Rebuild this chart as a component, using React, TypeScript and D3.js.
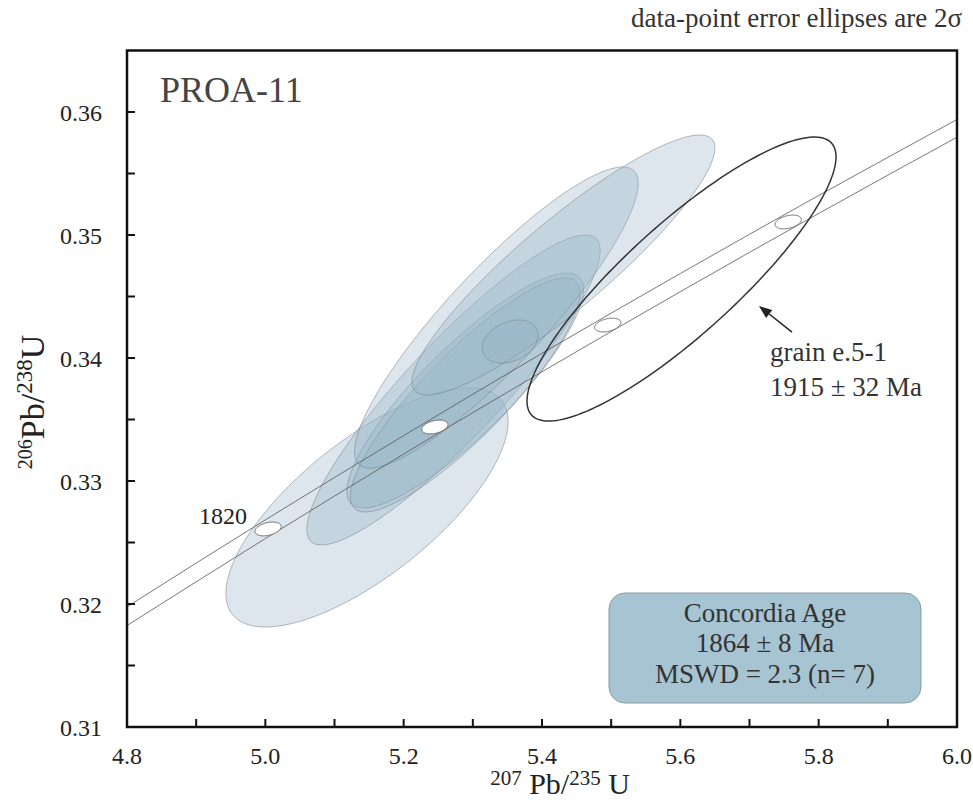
import React from 'react';
import * as d3 from 'd3';

// ---- axes ----
const xDomain = [4.8, 6.0];
const yDomain = [0.31, 0.365];
const xTicks = [4.8, 5.0, 5.2, 5.4, 5.6, 5.8, 6.0];
const xMinor = [4.9, 5.1, 5.3, 5.5, 5.7, 5.9];
const yTicks = [0.31, 0.32, 0.33, 0.34, 0.35, 0.36];
const yMinor = [0.315, 0.325, 0.335, 0.345, 0.355];

// ---- data-point error ellipses (2σ): centre, half-extent, correlation ----
const ellX = [5.147, 5.272, 5.289, 5.289, 5.334, 5.431, 5.354];
const ellSX = [0.204, 0.212, 0.171, 0.166, 0.205, 0.219, 0.0405];
const ellY = [0.32785, 0.3374, 0.33736, 0.33699, 0.34329, 0.34756, 0.34134];
const ellSY = [0.00972, 0.0126, 0.00955, 0.00951, 0.01224, 0.01057, 0.00175];
const ellRho = [0.72, 0.9, 0.86, 0.87, 0.89, 0.9, 0.3];

// excluded grain e.5-1
const outlierX = [5.6017];
const outlierSX = [0.2234];
const outlierY = [0.34642];
const outlierSY = [0.011545];
const outlierRho = [0.86];

// ---- concordia band ----
const bandX = [4.8, 5.0, 5.2, 5.4, 5.6, 5.8, 6.0];
const bandUpper = [0.31977, 0.32684, 0.33369, 0.34038, 0.34687, 0.35321, 0.35939];
const bandLower = [0.31825, 0.32532, 0.33219, 0.33888, 0.34539, 0.35175, 0.35795];

// concordia age markers (Ma)
const ages = [1820, 1860, 1900, 1940];
const ageX = [5.004, 5.245, 5.495, 5.756];
const ageY = [0.3261, 0.33439, 0.34268, 0.35106];
const ageSX = 0.019;
const ageSY = 0.00056;
const ageRho = 0.35;

// annotation arrow (data coords): tail, head
const arrowX = [5.7614, 5.7137];
const arrowY = [0.34211, 0.34423];

const W = 973;
const H = 800;
const M = { left: 127, right: 957, top: 50.5, bottom: 727 };

const FONT = '"Liberation Serif", "DejaVu Serif", serif';

export default function App() {
  const x = d3.scaleLinear().domain(xDomain).range([M.left, M.right]);
  const y = d3.scaleLinear().domain(yDomain).range([M.bottom, M.top]);

  const angles = d3.range(0, 2 * Math.PI, Math.PI / 90);
  const line = d3
    .line<[number, number]>()
    .x((d) => x(d[0]))
    .y((d) => y(d[1]))
    .curve(d3.curveLinearClosed);
  const ellipsePath = (cx: number, sx: number, cy: number, sy: number, rho: number) => {
    const k = Math.sqrt(1 - rho * rho);
    const pts: [number, number][] = angles.map((t) => [
      cx + sx * Math.cos(t),
      cy + sy * (rho * Math.cos(t) + k * Math.sin(t)),
    ]);
    return line(pts) || '';
  };

  const bandLine = d3
    .line<number>()
    .x((_, i) => x(bandX[i]))
    .y((d) => y(d))
    .curve(d3.curveMonotoneX);

  // arrow geometry
  const ax0 = x(arrowX[0]);
  const ay0 = y(arrowY[0]);
  const ax1 = x(arrowX[1]);
  const ay1 = y(arrowY[1]);
  const ang = Math.atan2(ay1 - ay0, ax1 - ax0);
  const hl = 13;
  const hw = 5;
  const bx = ax1 - hl * Math.cos(ang);
  const by = ay1 - hl * Math.sin(ang);
  const head = `M${ax1},${ay1}L${bx + hw * Math.sin(ang)},${by - hw * Math.cos(ang)}L${bx - hw * Math.sin(ang)},${by + hw * Math.cos(ang)}Z`;

  const textColor = '#333';

  return (
    <svg
      width={W}
      height={H}
      style={{ position: 'absolute', left: 0, top: 0, background: '#fff' }}
      fontFamily={FONT}
    >
      <rect x={0} y={0} width={W} height={H} fill="#fff" />

      {/* data ellipses */}
      <g>
        {ellX.map((cx, i) => (
          <path
            key={i}
            d={ellipsePath(cx, ellSX[i], ellY[i], ellSY[i], ellRho[i])}
            fill="rgb(148,178,197)"
            fillOpacity={0.33}
            stroke="rgb(120,130,140)"
            strokeOpacity={0.55}
            strokeWidth={1}
          />
        ))}
      </g>

      {/* concordia band */}
      <path d={bandLine(bandUpper) || ''} fill="none" stroke="#555" strokeWidth={0.8} />
      <path d={bandLine(bandLower) || ''} fill="none" stroke="#555" strokeWidth={0.8} />

      {/* age markers */}
      {ages.map((a, i) => (
        <path
          key={a}
          d={ellipsePath(ageX[i], ageSX, ageY[i], ageSY, ageRho)}
          fill="#fff"
          stroke="#666"
          strokeWidth={1}
        />
      ))}
      <text x={x(ageX[0]) - 21} y={y(ageY[0]) - 5} fontSize={24} textAnchor="end" fill="#222">
        {ages[0]}
      </text>

      {/* excluded grain */}
      {outlierX.map((cx, i) => (
        <path
          key={i}
          d={ellipsePath(cx, outlierSX[i], outlierY[i], outlierSY[i], outlierRho[i])}
          fill="none"
          stroke="#333"
          strokeWidth={1.5}
        />
      ))}

      {/* arrow + label */}
      <line x1={ax0} y1={ay0} x2={bx} y2={by} stroke="#222" strokeWidth={1.5} />
      <path d={head} fill="#222" />
      <text x={770} y={361} fontSize={27} fill={textColor}>
        grain e.5-1
      </text>
      <text x={770} y={396} fontSize={27} fill={textColor}>
        1915 ± 32 Ma
      </text>

      {/* concordia age box */}
      <rect x={609} y={593} width={312} height={110} rx={16} ry={16} fill="#a6c4d2" stroke="#8a9aa3" strokeWidth={1} />
      <text x={765} y={622} fontSize={27} textAnchor="middle" fill={textColor}>
        Concordia Age
      </text>
      <text x={765} y={652} fontSize={27} textAnchor="middle" fill={textColor}>
        1864 ± 8 Ma
      </text>
      <text x={765} y={683} fontSize={27} textAnchor="middle" fill={textColor}>
        MSWD = 2.3 (n= 7)
      </text>

      {/* sample name */}
      <text x={160} y={102} fontSize={36} fill="#444">
        PROA-11
      </text>

      {/* header note */}
      <text x={962} y={27} fontSize={27} textAnchor="end" fill={textColor}>
        data-point error ellipses are 2σ
      </text>

      {/* frame */}
      <rect
        x={M.left}
        y={M.top}
        width={M.right - M.left}
        height={M.bottom - M.top}
        fill="none"
        stroke="#111"
        strokeWidth={2.5}
      />

      {/* ticks */}
      {[...xTicks, ...xMinor].map((t) => (
        <line key={'xt' + t} x1={x(t)} x2={x(t)} y1={M.bottom} y2={M.bottom - 8} stroke="#111" strokeWidth={2} />
      ))}
      {[...yTicks, ...yMinor].map((t) => (
        <line key={'yt' + t} x1={M.left} x2={M.left + 8} y1={y(t)} y2={y(t)} stroke="#111" strokeWidth={2} />
      ))}
      {xTicks.map((t) => (
        <text key={'xl' + t} x={x(t)} y={764} fontSize={24} textAnchor="middle" fill="#222">
          {t.toFixed(1)}
        </text>
      ))}
      {yTicks.map((t) => (
        <text key={'yl' + t} x={102} y={y(t) + 9} fontSize={24} textAnchor="end" fill="#222">
          {t.toFixed(2)}
        </text>
      ))}

      {/* axis titles */}
      <text x={560} y={794} fontSize={30} textAnchor="middle" fill="#222">
        <tspan fontSize={21} dy={-9}>207</tspan>
        <tspan dy={9}> Pb/</tspan>
        <tspan fontSize={21} dy={-9}>235</tspan>
        <tspan dy={9}> U</tspan>
      </text>
      <text transform="translate(44,402) rotate(-90)" fontSize={34} textAnchor="middle" fill="#222">
        <tspan fontSize={20} dy={-12}>206</tspan>
        <tspan dy={12}>Pb/</tspan>
        <tspan fontSize={23} dy={-12}>238</tspan>
        <tspan dy={12}>U</tspan>
      </text>
    </svg>
  );
}
